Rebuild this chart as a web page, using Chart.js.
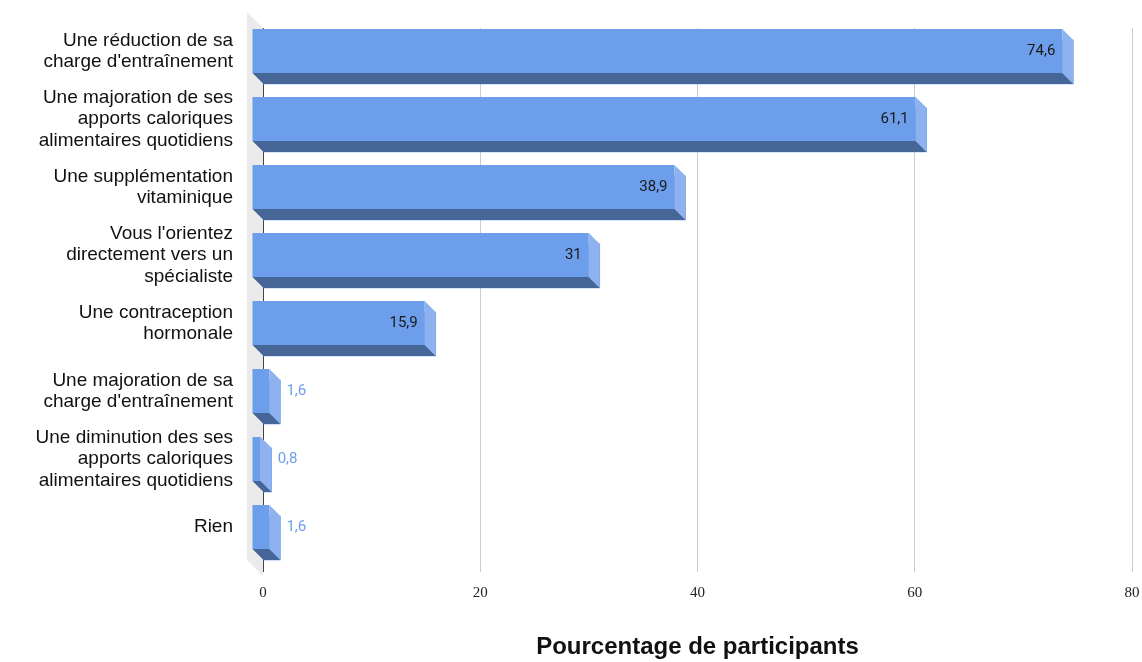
<!DOCTYPE html>
<html>
<head>
<meta charset="utf-8">
<script src="https://cdn.jsdelivr.net/npm/chart.js@4/dist/chart.umd.min.js"></script>
<style>
  html, body { margin: 0; padding: 0; background: #fff; }
  #wrap { width: 1142px; height: 662px; }
</style>
</head>
<body>
<div id="wrap"><canvas id="chart"></canvas></div>
<script>
const categories = [
  ['Une réduction de sa', "charge d'entraînement"],
  ['Une majoration de ses', 'apports caloriques', 'alimentaires quotidiens'],
  ['Une supplémentation', 'vitaminique'],
  ["Vous l'orientez", 'directement vers un', 'spécialiste'],
  ['Une contraception', 'hormonale'],
  ['Une majoration de sa', "charge d'entraînement"],
  ['Une diminution des ses', 'apports caloriques', 'alimentaires quotidiens'],
  ['Rien']
];
const percentages = [74.6, 61.1, 38.9, 31, 15.9, 1.6, 0.8, 1.6];
const xTicks = [0, 20, 40, 60, 80];
const axisTitle = 'Pourcentage de participants';

const DEPTH = 11;       // 3d offset of the bars
const WALL = 16;        // 3d offset of the side wall
const FRONT = '#6d9eeb';
const SIDE = '#8db2ef';
const BOTTOM = '#476698';

const fmt = v => String(v).replace('.', ',');

// side wall + 3d faces + value labels
const bars3d = {
  id: 'bars3d',
  beforeDraw(chart) {
    const { ctx, chartArea: a } = chart;
    ctx.save();
    ctx.fillStyle = '#ebebeb';
    ctx.beginPath();
    ctx.moveTo(a.left - WALL, a.top - WALL);
    ctx.lineTo(a.left, a.top);
    ctx.lineTo(a.left, a.bottom + 4);
    ctx.lineTo(a.left - WALL, a.bottom + 4 - WALL);
    ctx.closePath();
    ctx.fill();
    ctx.restore();
  },
  afterDatasetsDraw(chart) {
    const { ctx } = chart;
    const meta = chart.getDatasetMeta(0);
    ctx.save();
    meta.data.forEach((bar, i) => {
      const { x, y, base, height } = bar.getProps(['x', 'y', 'base', 'height'], true);
      const d = DEPTH;
      const top = y - height / 2 - d;
      const bot = y + height / 2 - d;
      // front face
      ctx.fillStyle = FRONT;
      ctx.fillRect(base - d, top, x - base, bot - top);
      // bottom face
      ctx.fillStyle = BOTTOM;
      ctx.beginPath();
      ctx.moveTo(base - d, bot);
      ctx.lineTo(x - d, bot);
      ctx.lineTo(x, bot + d);
      ctx.lineTo(base, bot + d);
      ctx.closePath();
      ctx.fill();
      // right face
      ctx.fillStyle = SIDE;
      ctx.beginPath();
      ctx.moveTo(x - d, top);
      ctx.lineTo(x, top + d);
      ctx.lineTo(x, bot + d);
      ctx.lineTo(x - d, bot);
      ctx.closePath();
      ctx.fill();

      // value label
      const txt = fmt(percentages[i]);
      ctx.font = '15px Roboto';
      ctx.textBaseline = 'middle';
      const w = ctx.measureText(txt).width;
      if (x - base > w + 16) {
        ctx.fillStyle = '#1a1a1a';
        ctx.textAlign = 'right';
        ctx.fillText(txt, x - d - 7, (top + bot) / 2);
      } else {
        ctx.fillStyle = FRONT;
        ctx.textAlign = 'left';
        ctx.fillText(txt, x + 6, (top + bot) / 2);
      }
    });
    ctx.restore();
  }
};

new Chart(document.getElementById('chart'), {
  type: 'bar',
  data: {
    labels: categories,
    datasets: [{
      data: percentages,
      backgroundColor: FRONT,
      borderWidth: 0,
      barThickness: 44
    }]
  },
  options: {
    indexAxis: 'y',
    responsive: true,
    maintainAspectRatio: false,
    animation: false,
    layout: { padding: { top: 28, right: 10, left: 0, bottom: 0 } },
    plugins: {
      legend: { display: false },
      tooltip: { enabled: false }
    },
    scales: {
      x: {
        min: 0,
        max: 80,
        afterBuildTicks: s => { s.ticks = xTicks.map(v => ({ value: v })); },
        afterFit: s => {
          s.height = 90;
          s.paddingLeft = 0;
          s.paddingRight = 0;
        },
        grid: {
          drawTicks: false,
          color: c => (c.tick && c.tick.value === 0 ? '#444' : '#cccccc'),
          lineWidth: 1
        },
        border: { display: false },
        ticks: {
          padding: 12,
          color: '#222',
          font: { family: 'Liberation Serif', size: 15 }
        },
        title: {
          display: true,
          text: axisTitle,
          color: '#111',
          padding: 0,
          font: { family: 'Liberation Sans', size: 24, weight: 'bold' }
        }
      },
      y: {
        afterFit: s => {
          s.width = 263;
          s.paddingTop = 0;
          s.paddingBottom = 0;
        },
        grid: { display: false, drawTicks: false },
        border: { display: false },
        ticks: {
          autoSkip: false,
          padding: 30,
          labelOffset: -DEPTH,
          color: '#111',
          font: { family: 'Liberation Sans', size: 19, lineHeight: 1.12 }
        }
      }
    }
  },
  plugins: [bars3d]
});
</script>
</body>
</html>
